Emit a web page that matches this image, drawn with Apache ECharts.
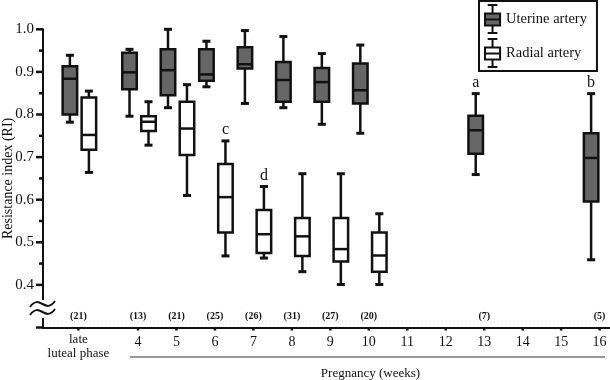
<!DOCTYPE html>
<html>
<head>
<meta charset="utf-8">
<script src="https://cdn.jsdelivr.net/npm/echarts@6/dist/echarts.min.js"></script>
<style>
html,body{margin:0;padding:0;background:#fff;}
#chart{width:610px;height:380px;}
</style>
</head>
<body>
<div id="chart"></div>
<script>
// ---- data ----
var groupX = [2.45, 4, 5, 6, 7, 8, 9, 10, 13, 16];
var tickValues = [2.45, 4, 5, 6, 7, 8, 9, 10, 11, 12, 13, 14, 15, 16];
var lutealLabel = ['late', 'luteal phase'];
var yMajorTicks = [0.3, 0.4, 0.5, 0.6, 0.7, 0.8, 0.9, 1.0];
var yMinorTicks = [0.35, 0.45, 0.55, 0.65, 0.75, 0.85, 0.95];
// [min, q1, median, q3, max]
var uterine = [
  [0.782, 0.800, 0.884, 0.913, 0.939],
  [0.796, 0.859, 0.899, 0.945, 0.953],
  [0.816, 0.845, 0.904, 0.953, 1.000],
  [0.865, 0.879, 0.894, 0.953, 0.972],
  [0.826, 0.908, 0.918, 0.958, 0.997],
  [0.816, 0.830, 0.881, 0.923, 0.983],
  [0.777, 0.830, 0.876, 0.909, 0.943],
  [0.756, 0.826, 0.857, 0.920, 0.963],
  [0.659, 0.708, 0.763, 0.797, 0.849],
  [0.459, 0.596, 0.698, 0.756, 0.849]
];
var radial = [
  [0.664, 0.717, 0.752, 0.840, 0.855],
  [0.728, 0.761, 0.783, 0.796, 0.830],
  [0.610, 0.705, 0.767, 0.830, 0.870],
  [0.468, 0.523, 0.606, 0.684, 0.738],
  [0.463, 0.475, 0.519, 0.576, 0.631],
  [0.431, 0.468, 0.514, 0.557, 0.661],
  [0.401, 0.455, 0.484, 0.557, 0.661],
  [0.401, 0.431, 0.469, 0.523, 0.567],
  null,
  null
];
var nCounts = ['(21)', '(13)', '(21)', '(25)', '(26)', '(31)', '(27)', '(20)', '(7)', '(5)'];
// significance letters
var letterGroup = [3, 4, 8, 9];
var letterSeries = ['r', 'r', 'u', 'u'];
var letterText = ['c', 'd', 'a', 'b'];

// ---- build ----
var SERIF = '"Liberation Serif", "DejaVu Serif", serif';
var X_MIN = 1.53, X_MAX = 16.27, Y_MIN = 0.3, Y_MAX = 1.0;
var U_OFF = -8.5, R_OFF = 10.5, BOX_W = 14.5, CAP_W = 8;

function toBoxData(arr) {
  var out = [];
  arr.forEach(function (s, i) {
    if (s) out.push([groupX[i]].concat(s));
  });
  return out;
}

function boxRender(offset, fill) {
  return function (params, api) {
    var x = api.value(0);
    var cx = api.coord([x, 0.5])[0] + offset;
    function Y(v) { return api.coord([x, v])[1]; }
    var yMin = Y(api.value(1)), yQ1 = Y(api.value(2)), yMed = Y(api.value(3)),
        yQ3 = Y(api.value(4)), yMax = Y(api.value(5));
    var line = { stroke: '#111', lineWidth: 2.5 };
    var cap = { stroke: '#111', lineWidth: 3 };
    return {
      type: 'group',
      children: [
        { type: 'line', shape: { x1: cx, y1: yQ3, x2: cx, y2: yMax }, style: line },
        { type: 'line', shape: { x1: cx, y1: yQ1, x2: cx, y2: yMin }, style: line },
        { type: 'line', shape: { x1: cx - CAP_W / 2, y1: yMax, x2: cx + CAP_W / 2, y2: yMax }, style: cap },
        { type: 'line', shape: { x1: cx - CAP_W / 2, y1: yMin, x2: cx + CAP_W / 2, y2: yMin }, style: cap },
        { type: 'rect', shape: { x: cx - BOX_W / 2, y: yQ3, width: BOX_W, height: yQ1 - yQ3 },
          style: { fill: fill, stroke: '#111', lineWidth: 2.5 } },
        { type: 'line', shape: { x1: cx - BOX_W / 2, y1: yMed, x2: cx + BOX_W / 2, y2: yMed }, style: line }
      ]
    };
  };
}

var nData = groupX.map(function (x) { return [x, Y_MIN]; });
var letterData = letterGroup.map(function (g, i) {
  var s = letterSeries[i] === 'u' ? uterine[g] : radial[g];
  return [groupX[g], s[4]];
});
// tick marks: [x, y, kind] kind 0 = y major, 1 = y minor, 2 = x tick
var tickData = []
  .concat(yMajorTicks.map(function (v) { return [X_MIN, v, 0]; }))
  .concat(yMinorTicks.map(function (v) { return [X_MIN, v, 1]; }))
  .concat(tickValues.map(function (v) { return [v, Y_MIN, 2]; }));

var iconPath = 'path://M4,1L13,1M8.5,1L8.5,9M1.5,9L15.5,9L15.5,20L1.5,20ZM1.5,14.5L15.5,14.5M8.5,20L8.5,27M4,27L13,27';

var chart = echarts.init(document.getElementById('chart'));
chart.setOption({
  animation: false,
  backgroundColor: '#fff',
  grid: { left: 43, right: 0, top: 29.3, bottom: 52.5, containLabel: false, outerBoundsMode: 'none' },
  legend: {
    orient: 'vertical',
    left: 479, top: 1,
    padding: [3, 10, 3, 5],
    borderColor: '#111', borderWidth: 2,
    itemWidth: 17, itemHeight: 28, itemGap: 4, itemTextGap: 4,
    textStyle: { fontFamily: SERIF, fontSize: 14.5, color: '#111' },
    data: [
      { name: 'Uterine artery', icon: iconPath, itemStyle: { color: '#666', borderColor: '#111', borderWidth: 2 } },
      { name: 'Radial artery', icon: iconPath, itemStyle: { color: '#fff', borderColor: '#111', borderWidth: 2 } }
    ]
  },
  xAxis: {
    type: 'value',
    min: X_MIN, max: X_MAX,
    splitLine: { show: false },
    name: 'Pregnancy (weeks)',
    nameLocation: 'middle',
    nameGap: 40,
    nameMoveOverlap: false,
    nameTextStyle: { fontFamily: SERIF, fontSize: 13, color: '#111', padding: [0, 0, 0, 88] },
    axisLine: { onZero: false, lineStyle: { color: '#111', width: 2 } },
    axisTick: { show: false },
    axisLabel: {
      customValues: tickValues,
      margin: 5,
      formatter: function (v) {
        if (Math.abs(v - groupX[0]) < 1e-6) return '{lut|' + lutealLabel[0] + '}\n{lut|' + lutealLabel[1] + '}';
        return '{num|' + v + '}';
      },
      rich: {
        lut: { fontFamily: SERIF, fontSize: 13, lineHeight: 14, color: '#111' },
        num: { fontFamily: SERIF, fontSize: 14, lineHeight: 14, color: '#111', padding: [6, 0, 0, 0] }
      }
    }
  },
  yAxis: {
    type: 'value',
    min: Y_MIN, max: Y_MAX, interval: 0.1,
    splitLine: { show: false },
    name: 'Resistance index (RI)',
    nameLocation: 'middle',
    nameRotate: 90,
    nameGap: 28,
    nameMoveOverlap: false,
    nameTextStyle: { fontFamily: SERIF, fontSize: 14, color: '#111' },
    axisLine: { show: true, onZero: false, lineStyle: { color: '#111', width: 2 } },
    axisTick: { show: false },
    axisLabel: {
      margin: 9,
      fontFamily: SERIF, fontSize: 15, color: '#111',
      formatter: function (v) { return v < 0.35 ? '' : v.toFixed(1); }
    }
  },
  graphic: [
    // break in y axis
    { type: 'rect', shape: { x: 36, y: 300, width: 12, height: 18 }, style: { fill: '#fff' }, z: 100 },
    { type: 'bezierCurve', shape: { x1: 30, y1: 307, cpx1: 40, cpy1: 293, cpx2: 45, cpy2: 315, x2: 55, y2: 301 }, style: { fill: null, stroke: '#111', lineWidth: 2 }, z: 101 },
    { type: 'bezierCurve', shape: { x1: 30, y1: 315, cpx1: 40, cpy1: 301, cpx2: 45, cpy2: 323, x2: 55, y2: 309 }, style: { fill: null, stroke: '#111', lineWidth: 2 }, z: 101 },
    // faint dotted guide under counts
    { type: 'line', shape: { x1: 50, y1: 322, x2: 610, y2: 322 }, style: { stroke: '#ddd', lineWidth: 1, lineDash: [1, 3] }, z: 1 },
    // pregnancy bracket
    { type: 'line', shape: { x1: 130, y1: 357, x2: 605, y2: 357 }, style: { stroke: '#999', lineWidth: 2 }, z: 1 }
  ],
  series: [
    {
      name: 'Uterine artery', type: 'custom',
      itemStyle: { color: '#666', borderColor: '#111', borderWidth: 2 },
      renderItem: boxRender(U_OFF, '#666'),
      encode: { x: 0, y: [1, 2, 3, 4, 5] },
      data: toBoxData(uterine), z: 5
    },
    {
      name: 'Radial artery', type: 'custom',
      itemStyle: { color: '#fff', borderColor: '#111', borderWidth: 2 },
      renderItem: boxRender(R_OFF, '#fff'),
      encode: { x: 0, y: [1, 2, 3, 4, 5] },
      data: toBoxData(radial), z: 5
    },
    {
      type: 'custom', silent: true, clip: false,
      renderItem: function (params, api) {
        var p = api.coord([api.value(0), api.value(1)]);
        var k = api.value(2);
        var shape;
        if (k === 0) shape = { x1: p[0] - 7, y1: p[1], x2: p[0], y2: p[1] };
        else if (k === 1) shape = { x1: p[0] - 4, y1: p[1], x2: p[0], y2: p[1] };
        else shape = { x1: p[0], y1: p[1], x2: p[0], y2: p[1] + 3 };
        return { type: 'line', shape: shape, style: { stroke: '#111', lineWidth: 2.5 } };
      },
      data: tickData, z: 4
    },
    {
      type: 'custom', silent: true, clip: false,
      renderItem: function (params, api) {
        var p = api.coord([api.value(0), api.value(1)]);
        return { type: 'text', x: p[0], y: p[1] - 11,
          style: { text: nCounts[params.dataIndex], fontFamily: SERIF, fontSize: 10, fontWeight: 'bold',
                   fill: '#111', align: 'center', verticalAlign: 'middle' } };
      },
      data: nData, z: 6
    },
    {
      type: 'custom', silent: true, clip: false,
      renderItem: function (params, api) {
        var off = letterSeries[params.dataIndex] === 'u' ? U_OFF : R_OFF;
        var p = api.coord([api.value(0), api.value(1)]);
        return { type: 'text', x: p[0] + off, y: p[1] - 11,
          style: { text: letterText[params.dataIndex], fontFamily: SERIF, fontSize: 16,
                   fill: '#111', align: 'center', verticalAlign: 'middle' } };
      },
      data: letterData, z: 6
    }
  ]
});
</script>
</body>
</html>
